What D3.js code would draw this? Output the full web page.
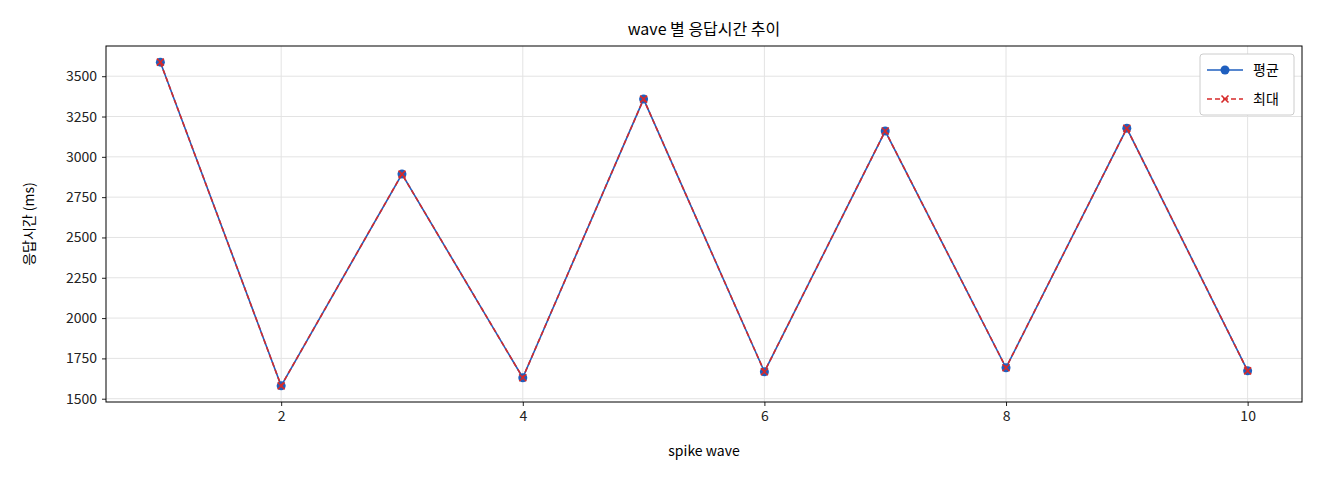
<!DOCTYPE html>
<html><head><meta charset="utf-8">
<script src="https://cdn.jsdelivr.net/npm/d3@7"></script>
<style>body{margin:0;background:#fff;font-family:"Noto Sans CJK KR","Noto Sans",sans-serif;}</style>
</head><body><svg id="c" width="1320" height="480"></svg>
<script>
const waves = [1,2,3,4,5,6,7,8,9,10];
const avgMs = [3587,1580,2893,1630,3358,1667,3160,1692,3177,1673];
const maxMs = [3587,1580,2893,1630,3358,1667,3160,1692,3177,1673];
const xTicks = [2,4,6,8,10];
const yTicks = [1500,1750,2000,2250,2500,2750,3000,3250,3500];

const svg = d3.select("#c");
const L=106,R=1302,T=46,B=402;
const x = d3.scaleLinear().domain([0.55,10.45]).range([L,R]);
const ext=d3.extent(avgMs.concat(maxMs)), pad=(ext[1]-ext[0])*0.05;
const y = d3.scaleLinear().domain([ext[0]-pad,ext[1]+pad]).range([B,T]);
const f="'Noto Sans CJK KR','Noto Sans',sans-serif";

const g=svg.append("g");
g.selectAll(".gx").data(xTicks).join("line").attr("x1",d=>x(d)).attr("x2",d=>x(d)).attr("y1",T).attr("y2",B).attr("stroke","#e3e3e3");
g.selectAll(".gy").data(yTicks).join("line").attr("y1",d=>y(d)).attr("y2",d=>y(d)).attr("x1",L).attr("x2",R).attr("stroke","#e3e3e3");

const xa=svg.append("g").attr("transform",`translate(0,${B})`).call(d3.axisBottom(x).tickValues(xTicks).tickFormat(d3.format("d")).tickSizeOuter(0).tickSize(4).tickPadding(5));
const ya=svg.append("g").attr("transform",`translate(${L},0)`).call(d3.axisLeft(y).tickValues(yTicks).tickFormat(d3.format("d")).tickSizeOuter(0).tickSize(4).tickPadding(5));
[xa,ya].forEach(a=>{a.select(".domain").remove();a.selectAll("text").attr("font-size",14).attr("font-family",f).attr("fill","#222");a.selectAll("line").attr("stroke","#222");});
svg.append("rect").attr("x",L).attr("y",T).attr("width",R-L).attr("height",B-T).attr("fill","none").attr("stroke","#000");

const line=d3.line().x((d,i)=>x(waves[i])).y(d=>y(d));
svg.append("path").datum(avgMs).attr("d",line).attr("fill","none").attr("stroke","#1f5fbf").attr("stroke-width",1.6);
svg.selectAll(".pt").data(avgMs).join("circle").attr("cx",(d,i)=>x(waves[i])).attr("cy",d=>y(d)).attr("r",4.5).attr("fill","#1f5fbf");
svg.append("path").datum(maxMs).attr("d",line).attr("fill","none").attr("stroke","#d62a2a").attr("stroke-width",1.6).attr("stroke-dasharray","5,3");
const cross=(sel,cx,cy,s)=>sel.append("path").attr("d",`M${cx-s},${cy-s}L${cx+s},${cy+s}M${cx-s},${cy+s}L${cx+s},${cy-s}`).attr("stroke","#d62a2a").attr("stroke-width",1.6);
maxMs.forEach((d,i)=>cross(svg,x(waves[i]),y(d),3.5));

svg.append("text").attr("x",(L+R)/2).attr("y",35).attr("text-anchor","middle").attr("font-size",16).attr("font-family",f).text("wave 별 응답시간 추이");
svg.append("text").attr("x",(L+R)/2).attr("y",456).attr("text-anchor","middle").attr("font-size",14).attr("font-family",f).text("spike wave");
svg.append("text").attr("transform",`translate(34,${(T+B)/2}) rotate(-90)`).attr("text-anchor","middle").attr("font-size",14).attr("font-family",f).text("응답시간 (ms)");

const lg=svg.append("g");
lg.append("rect").attr("x",1200).attr("y",54).attr("width",94).attr("height",61).attr("rx",3).attr("fill","#fff").attr("stroke","#ccc");
lg.append("line").attr("x1",1207).attr("x2",1243).attr("y1",70).attr("y2",70).attr("stroke","#1f5fbf").attr("stroke-width",1.6);
lg.append("circle").attr("cx",1225).attr("cy",70).attr("r",4.5).attr("fill","#1f5fbf");
lg.append("line").attr("x1",1207).attr("x2",1243).attr("y1",99).attr("y2",99).attr("stroke","#d62a2a").attr("stroke-width",1.6).attr("stroke-dasharray","5,3");
cross(lg,1225,99,3.5);
lg.append("text").attr("x",1253).attr("y",75).attr("font-size",14).attr("font-family",f).text("평균");
lg.append("text").attr("x",1253).attr("y",104).attr("font-size",14).attr("font-family",f).text("최대");
</script></body></html>
